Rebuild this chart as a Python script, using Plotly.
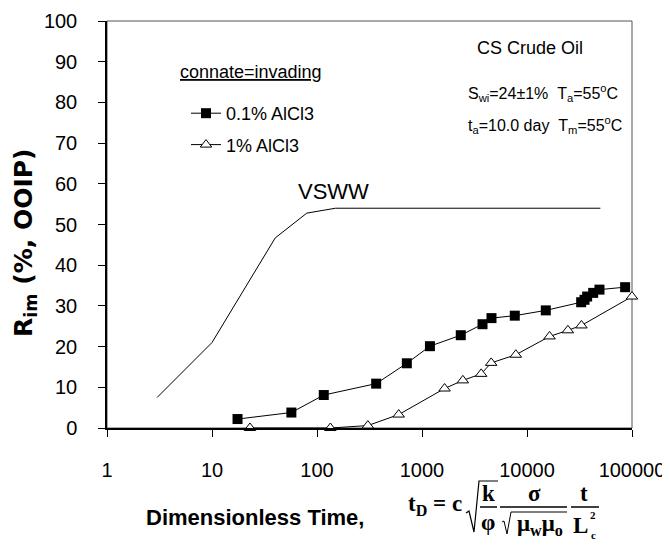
import plotly.graph_objects as go

# ---------------- data ----------------
vsww_x = [3, 10, 40, 80, 150, 50000]
vsww_y = [7.5, 21.0, 46.7, 52.8, 54.0, 54.0]

al01_x = [17.5, 57, 116, 366, 717, 1190, 2340, 3770, 4590, 7650, 15100,
          32800, 35300, 37400, 42700, 49000, 86000]
al01_y = [2.2, 3.8, 8.1, 10.9, 15.9, 20.1, 22.8, 25.5, 27.0, 27.6, 28.9,
          30.9, 31.5, 32.3, 33.2, 34.0, 34.6]

al1_x = [23, 134, 305, 600, 1640, 2450, 3660, 4560, 7830, 16400, 24500,
         33000, 100000]
al1_y = [0.0, 0.0, 0.6, 3.3, 9.7, 11.7, 13.3, 16.0, 18.0, 22.5, 24.0,
         25.2, 32.3]

x_tickvals = [1, 10, 100, 1000, 10000, 100000]
x_ticktext = ["1", "10", "100", "1000", "10000", "100000"]
y_tickvals = [0, 10, 20, 30, 40, 50, 60, 70, 80, 90, 100]

# ---------------- layout helpers ----------------
OFF = 8                      # page body margin
W, H = 662, 536
ML, MR, MT, MB = 99, 38, 13, 116
PW = W - ML - MR
PH = H - MT - MB


def px(x):
    return (x - OFF - ML) / PW


def py(y):
    return (H - MB - (y - OFF)) / PH


SANS = "Liberation Sans, Arial, sans-serif"
SERIF = "Liberation Serif, Times New Roman, serif"
NB = "\u00a0"

fig = go.Figure()

fig.add_trace(go.Scatter(
    x=vsww_x, y=vsww_y, mode="lines", showlegend=False,
    line=dict(color="black", width=1), cliponaxis=False))

fig.add_trace(go.Scatter(
    x=al01_x, y=al01_y, mode="lines+markers", name="0.1% AlCl3",
    legendgroup="a",
    line=dict(color="black", width=1),
    marker=dict(symbol="square", size=10, color="black"),
    cliponaxis=False))

fig.add_trace(go.Scatter(
    x=al1_x, y=al1_y, mode="lines+markers", name="1% AlCl3",
    legendgroup="b",
    line=dict(color="black", width=1),
    marker=dict(symbol="triangle-up", size=10, color="white",
                line=dict(color="black", width=1)),
    cliponaxis=False))

axis_common = dict(showgrid=False, zeroline=False, automargin=False)

fig.update_layout(
    width=W, height=H, autosize=False,
    margin=dict(l=ML, r=MR, t=MT, b=MB, pad=0, autoexpand=False),
    paper_bgcolor="white", plot_bgcolor="white",
    font=dict(family=SANS, color="black", size=20),
    xaxis=dict(type="log", range=[0, 5], tickvals=x_tickvals,
               ticktext=x_ticktext, ticks="outside", ticklen=7,
               tickwidth=1, tickcolor="black", showline=True,
               linecolor="black", linewidth=1.5,
               tickfont=dict(size=20), ticklabelstandoff=16,
               **axis_common),
    yaxis=dict(range=[0, 100], tickvals=y_tickvals, ticks="outside",
               ticklen=7, tickwidth=1, tickcolor="black", showline=True,
               linecolor="black", linewidth=1.5,
               tickfont=dict(size=20), ticklabelstandoff=17,
               **axis_common),
    xaxis2=dict(type="log", range=[0, 5], overlaying="x", anchor="y",
                side="bottom", tickvals=x_tickvals, showticklabels=False,
                ticks="inside", ticklen=7, tickwidth=1, tickcolor="black",
                showline=False, **axis_common),
    yaxis2=dict(range=[0, 100], overlaying="y", anchor="x", side="left",
                tickvals=y_tickvals, showticklabels=False, ticks="inside",
                ticklen=7, tickwidth=1, tickcolor="black", showline=False,
                **axis_common),
    legend=dict(x=px(186), y=py(95), xanchor="left", yanchor="top",
                bgcolor="rgba(0,0,0,0)", font=dict(size=18, family=SANS),
                tracegroupgap=5, itemwidth=30),
    showlegend=True,
)

# frame (top and right)
fig.add_shape(type="rect", xref="paper", yref="paper", x0=0, y0=0, x1=1,
              y1=1, line=dict(color="#555555", width=1), layer="below")

ann = []


def text(x, y, s, size=18, family=SANS, **kw):
    d = dict(x=px(x), y=py(y), xref="paper", yref="paper", text=s,
             showarrow=False, font=dict(size=size, family=family,
                                        color="black"),
             xanchor=kw.pop("xanchor", "center"),
             yanchor=kw.pop("yanchor", "middle"))
    d.update(kw)
    ann.append(d)


# in-plot texts
text(333, 191, "VSWW", size=22)
text(530, 48, "CS Crude Oil", size=18)
text(466, 93, "S<sub>wi</sub>=24±1%" + NB * 2 + "T<sub>a</sub>=55<sup>o</sup>C",
     size=16, xanchor="left")
text(466, 125, "t<sub>a</sub>=10.0 day" + NB * 2 +
     "T<sub>m</sub>=55<sup>o</sup>C", size=16, xanchor="left")
text(178, 72, "<u>connate=invading</u>", size=18, xanchor="left")

# axis titles
text(25, 243, "<b>R<sub>im</sub> (%, OOIP)</b>", size=25,
     family="DejaVu Sans, Liberation Sans, sans-serif", textangle=-90)
text(255, 517, "<b>Dimensionless Time,</b>", size=22)

# formula
FB = 23
text(435, 505, "<b>t<sub>D</sub> = c</b>", size=FB, family=SERIF)
text(488, 493, "<b>k</b>", size=FB, family=SERIF)
text(488, 522, "<b>φ</b>", size=FB, family=SERIF)
text(534, 493, "<b>σ</b>", size=FB, family=SERIF)
text(540, 525, "<b>μ<sub>w</sub>μ<sub>o</sub></b>", size=FB, family=SERIF)
text(584, 493, "<b>t</b>", size=FB, family=SERIF)
text(580, 525, "<b>L</b>", size=FB, family=SERIF)
text(593, 515, "<b>2</b>", size=11, family=SERIF)
text(593, 535, "<b>c</b>", size=11, family=SERIF)

fig.update_layout(annotations=ann)


def seg(x0, y0, x1, y1, w=1.5):
    fig.add_shape(type="line", xref="paper", yref="paper",
                  x0=px(x0), y0=py(y0), x1=px(x1), y1=py(y1),
                  line=dict(color="black", width=w))


def path(pts, w=1.2):
    d = "M " + " L ".join(f"{px(a):.5f},{py(b):.5f}" for a, b in pts)
    fig.add_shape(type="path", xref="paper", yref="paper", path=d,
                  line=dict(color="black", width=w))


# fraction bars
seg(480, 507, 497, 507)
seg(500, 507, 567, 507)
seg(571, 507, 599, 507)
# radicals
path([(466, 513), (469, 511), (474, 532), (479, 481), (498, 481)])
path([(502, 522), (504, 521), (507, 534), (511, 512), (567, 512)], w=1)

fig.write_html("out.html")
